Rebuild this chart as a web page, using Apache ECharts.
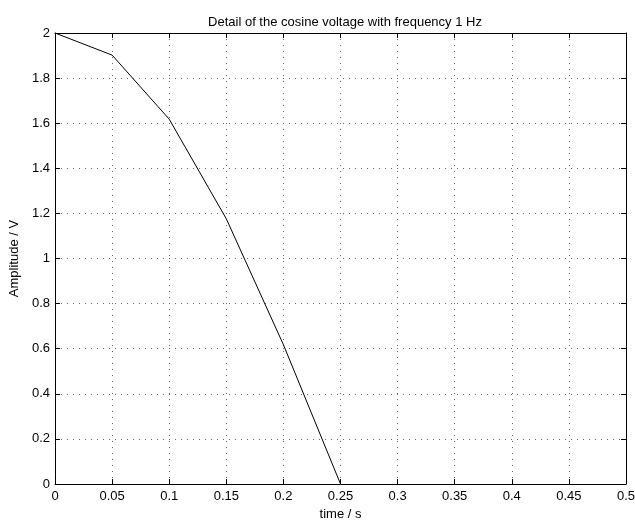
<!DOCTYPE html>
<html>
<head>
<meta charset="utf-8">
<script src="https://cdn.jsdelivr.net/npm/echarts@6/dist/echarts.min.js"></script>
<style>
  html, body { margin: 0; padding: 0; background: #fff; }
  #chart { width: 635px; height: 521px; }
</style>
</head>
<body>
<div id="chart"></div>
<script>
// Sampled cosine voltage (1 Hz, amplitude 2 V), first quarter period
const timeS = [0, 0.05, 0.1, 0.15, 0.2, 0.25];
const amplitudeV = [2, 1.902, 1.618, 1.176, 0.618, 0];

const xRange = [0, 0.5];
const xStep = 0.05;
const yRange = [0, 2];
const yStep = 0.2;

const FONT = '"Liberation Sans", Arial, Helvetica, sans-serif';
const gridDots = { color: '#666', width: 1, type: [1, 5] };

function fmt(v) {
  return String(Math.round(v * 1000) / 1000);
}

const chart = echarts.init(document.getElementById('chart'), null, { renderer: 'canvas' });

const baseAxis = {
  type: 'value',
  axisLine: { show: true, onZero: false, lineStyle: { color: '#000', width: 1 } },
  axisTick: { show: true, inside: true, length: 5, lineStyle: { color: '#000' } },
  axisLabel: { color: '#000', fontFamily: FONT, fontSize: 13, formatter: fmt },
  splitLine: { show: false }
};

chart.setOption({
  animation: false,
  backgroundColor: '#fff',
  title: {
    text: 'Detail of the cosine voltage with frequency 1 Hz',
    left: 340, top: 11, textAlign: 'center',
    textStyle: { fontFamily: FONT, fontSize: 13, fontWeight: 'normal', color: '#000' }
  },
  grid: {
    left: 55, top: 33, right: 9, bottom: 37,
    containLabel: false, outerBoundsMode: 'none'
  },
  xAxis: [
    Object.assign({}, baseAxis, {
      position: 'bottom',
      min: xRange[0], max: xRange[1], interval: xStep,
      name: 'time / s', nameLocation: 'middle', nameGap: 22,
      nameTextStyle: { fontFamily: FONT, fontSize: 13, color: '#000' },
      axisLabel: Object.assign({}, baseAxis.axisLabel, { margin: 6 }),
      splitLine: { show: true, lineStyle: gridDots }
    }),
    Object.assign({}, baseAxis, {
      position: 'top',
      min: xRange[0], max: xRange[1], interval: xStep,
      axisLabel: { show: false }
    })
  ],
  yAxis: [
    Object.assign({}, baseAxis, {
      position: 'left',
      min: yRange[0], max: yRange[1], interval: yStep,
      name: 'Amplitude / V', nameLocation: 'middle', nameGap: 31,
      nameTextStyle: { fontFamily: FONT, fontSize: 13, color: '#000' },
      axisLabel: Object.assign({}, baseAxis.axisLabel, { margin: 5 }),
      splitLine: { show: true, lineStyle: gridDots }
    }),
    Object.assign({}, baseAxis, {
      position: 'right',
      min: yRange[0], max: yRange[1], interval: yStep,
      axisLabel: { show: false }
    })
  ],
  series: [{
    type: 'line',
    xAxisIndex: 0, yAxisIndex: 0,
    data: timeS.map((t, i) => [t, amplitudeV[i]]),
    showSymbol: false,
    lineStyle: { color: '#000', width: 1 }
  }]
});
</script>
</body>
</html>
